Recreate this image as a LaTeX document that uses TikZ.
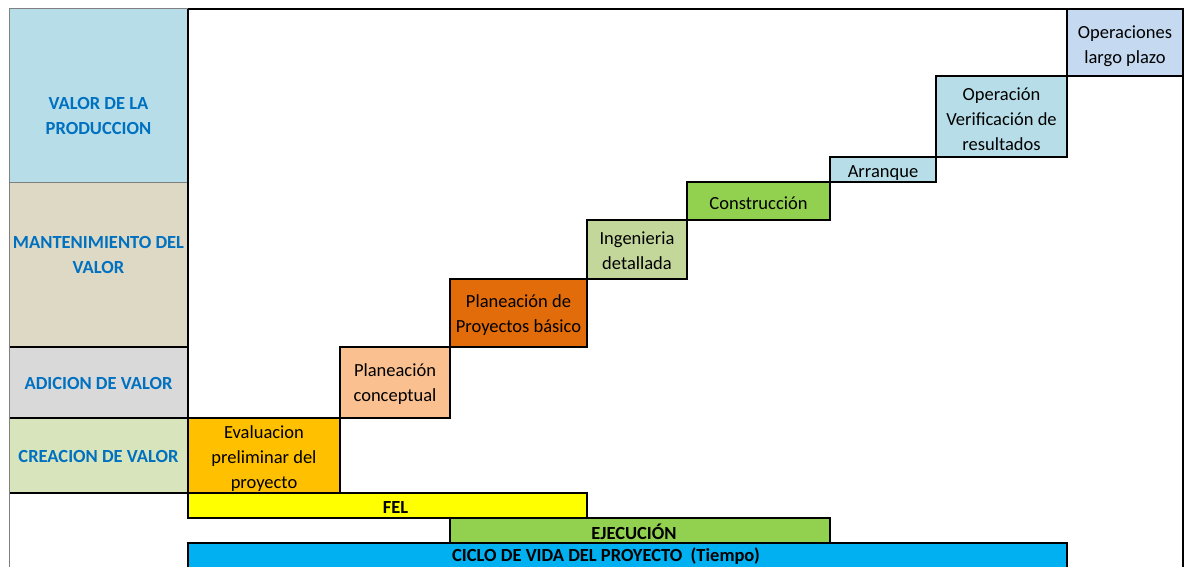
\documentclass[tikz,border=0pt]{standalone}
\usepackage{fontspec}
\setmainfont{Carlito}
\definecolor{prodfill}{HTML}{B7DEE8}
\definecolor{mantfill}{HTML}{DDD9C4}
\definecolor{adicfill}{HTML}{D9D9D9}
\definecolor{creafill}{HTML}{D8E4BC}
\definecolor{evalfill}{HTML}{FFC000}
\definecolor{concfill}{HTML}{FAC090}
\definecolor{basifill}{HTML}{E26B0A}
\definecolor{ingfill}{HTML}{C4D79B}
\definecolor{constfill}{HTML}{92D050}
\definecolor{arrfill}{HTML}{B7DEE8}
\definecolor{opfill}{HTML}{B7DEE8}
\definecolor{largofill}{HTML}{C5D9F1}
\definecolor{felfill}{HTML}{FFFF00}
\definecolor{ejecfill}{HTML}{92D050}
\definecolor{ciclofill}{HTML}{00B0F0}
\definecolor{headtext}{HTML}{0070C0}
\definecolor{gridgray}{HTML}{808080}
\begin{document}
\begin{tikzpicture}[x=1pt,y=-1pt,
  cell/.style={rectangle, anchor=north west, inner sep=0pt, outer sep=0pt},
  celltext/.style={inner sep=0pt, align=center, font=\fontsize{18.5}{25}\selectfont},
  headtextstyle/.style={celltext, text=headtext, font=\fontsize{18.5}{25}\selectfont\bfseries},
  stepbox/.style={cell, draw=black, line width=2pt},
  barbox/.style={cell, draw=black, line width=2pt},
  steptext/.style={label={[celltext, yshift=-3pt]center:{#1}}},
  headlabel/.style={label={[headtextstyle]center:{#1}}},
  bartext/.style={label={[headtextstyle, text=black, yshift=-1.5pt]center:{#1}}},
]
\useasboundingbox (0,0) rectangle (1185,567);
\fill[white] (0,0) rectangle (1185,567);

% value categories in the left column
\node[cell, fill=prodfill, minimum width=179pt, minimum height=173pt,
  label={[headtextstyle, yshift=-21pt]center:{VALOR DE LA\\PRODUCCION}}] (prod) at (9,9) {};
\node[cell, fill=mantfill, minimum width=179pt, minimum height=165pt,
  label={[headtextstyle, yshift=10pt]center:{MANTENIMIENTO DEL\\VALOR}}] (mant) at (9,182) {};
\node[cell, fill=adicfill, minimum width=179pt, minimum height=71pt,
  label={[headtextstyle, yshift=-0.5pt]center:{ADICION DE VALOR}}] (adic) at (9,347) {};
\node[cell, fill=creafill, minimum width=179pt, minimum height=75pt,
  label={[headtextstyle, yshift=-0.5pt]center:{CREACION DE VALOR}}] (crea) at (9,418) {};

% row separators of the left column
\draw[gridgray, line width=1pt] (prod.south west) -- (prod.south east);
\draw[black, line width=2pt] (mant.south west) -- (mant.south east);
\draw[black, line width=1.5pt] (adic.south west) -- (adic.south east);
\draw[black, line width=2pt] (crea.south west) -- (crea.south east);

% project stages, as a staircase
\node[stepbox, fill=evalfill, minimum width=152pt, minimum height=75pt,
  steptext={Evaluacion\\preliminar del\\proyecto}] (eval) at (188,418) {};
\node[stepbox, fill=concfill, minimum width=110pt, minimum height=71pt,
  label={[celltext, yshift=-2pt]center:{Planeación\\conceptual}}] (conc) at (340,347) {};
\node[stepbox, fill=basifill, minimum width=137pt, minimum height=68pt,
  label={[celltext, yshift=-2pt]center:{Planeación de\\Proyectos básico}}] (basi) at (450,279) {};
\node[stepbox, fill=ingfill, minimum width=100pt, minimum height=59pt,
  label={[celltext, yshift=-1.5pt]center:{Ingenieria\\detallada}}] (ing) at (587,220) {};
\node[stepbox, fill=constfill, minimum width=143pt, minimum height=38pt,
  label={[celltext, yshift=-2pt]center:{Construcción}}] (const) at (687,182) {};
\node[stepbox, fill=arrfill, minimum width=106pt, minimum height=25pt,
  label={[celltext, yshift=-3.5pt]center:{Arranque}}] (arr) at (830,157) {};
\node[stepbox, fill=opfill, minimum width=131pt, minimum height=81pt,
  steptext={Operación\\Verificación de\\resultados}] (op) at (936,76) {};
\node[stepbox, fill=largofill, minimum width=116pt, minimum height=67pt,
  label={[celltext, yshift=-4pt]center:{Operaciones\\largo plazo}}] (largo) at (1067,9) {};

% phase bars
\node[barbox, fill=felfill, minimum width=399pt, minimum height=25pt,
  label={[headtextstyle, text=black, xshift=8pt, yshift=-1.5pt]center:{FEL}}] (fel) at (188,493) {};
\node[barbox, fill=ejecfill, minimum width=380pt, minimum height=25pt,
  label={[headtextstyle, text=black, xshift=-6pt, yshift=-1pt]center:{EJECUCIÓN}}] (ejec) at (450,518) {};
\node[barbox, fill=ciclofill, minimum width=879pt, minimum height=34pt] (ciclo) at (188,543) {};
\node[headtextstyle, text=black, anchor=west] (ciclotxt) at ([xshift=264pt, yshift=-13pt]ciclo.north west) {CICLO DE VIDA DEL PROYECTO\ \ (Tiempo)};

% outer frame
\draw[gridgray, line width=1pt] (9,570) -- (9,9) -- (188,9);
\draw[black, line width=1.5pt] (188,9) -- (1183,9) -- (1183,570);
\draw[black, line width=2pt] (prod.north east) -- (crea.south east);
\end{tikzpicture}
\end{document}
